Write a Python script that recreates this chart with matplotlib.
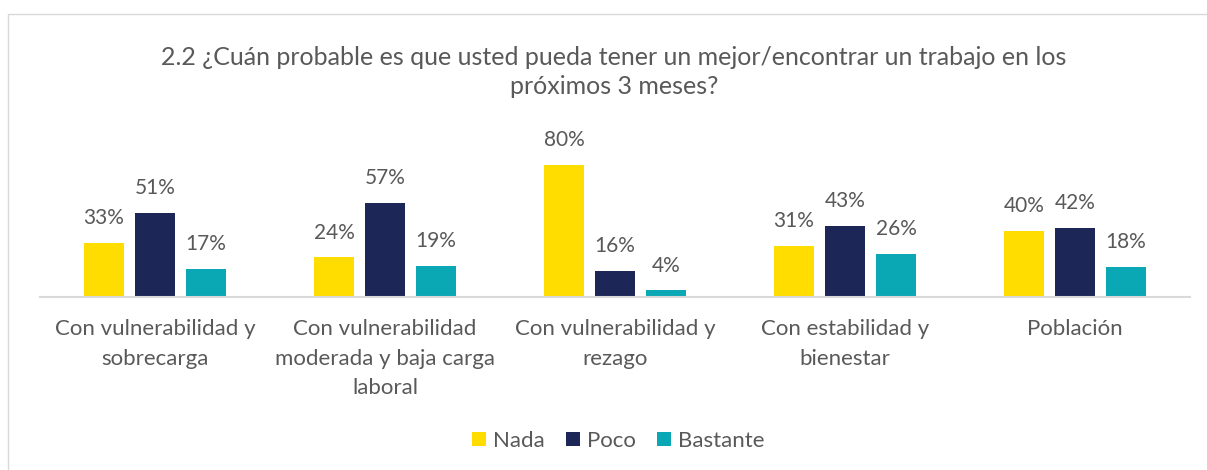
import matplotlib
matplotlib.use("Agg")
import matplotlib.pyplot as plt
from matplotlib.patches import Rectangle
import numpy as np

categories = ["Con vulnerabilidad y\nsobrecarga",
              "Con vulnerabilidad\nmoderada y baja carga\nlaboral",
              "Con vulnerabilidad y\nrezago",
              "Con estabilidad y\nbienestar",
              "Población"]
series_names = ["Nada", "Poco", "Bastante"]
nada = [33, 24, 80, 31, 40]
poco = [51, 57, 16, 43, 42]
bastante = [17, 19, 4, 26, 18]
colors = ["#FFDD00", "#1C2657", "#0AA7B4"]
title = "2.2 ¿Cuán probable es que usted pueda tener un mejor/encontrar un trabajo en los\npróximos 3 meses?"

plt.rcParams['font.family'] = ['Lato', 'DejaVu Sans']
txt = "#595959"

W, H = 1207, 470
fig = plt.figure(figsize=(W / 100, H / 100), dpi=100)
fig.patches.append(Rectangle((8 / W, -0.1), 1.2, (H - 14) / H + 0.1, transform=fig.transFigure,
                             fill=False, edgecolor="#d9d9d9", linewidth=1.0))

ax = fig.add_axes([40 / W, 173 / H, 1150 / W, 165 / H])
x = np.arange(len(categories))
bw = 40 / 230
step = 51 / 230
for i, (vals, name, c) in enumerate(zip([nada, poco, bastante], series_names, colors)):
    pos = x + (i - 1) * step
    bars = ax.bar(pos, vals, width=bw, color=c, label=name, zorder=2)
    for p, v in zip(pos, vals):
        ax.text(p, v + 9, f"{v}%", ha="center", va="bottom", fontsize=15, color=txt, clip_on=False)

ax.set_xlim(-0.5, len(categories) - 0.5)
ax.set_ylim(0, 100)
ax.set_yticks([])
ax.set_xticks(x)
ax.set_xticklabels(categories, fontsize=16, color=txt, linespacing=1.58)
ax.tick_params(axis="x", length=0, pad=16)
for s in ["top", "left", "right"]:
    ax.spines[s].set_visible(False)
ax.spines["bottom"].set_color("#d9d9d9")
ax.spines["bottom"].set_linewidth(1.5)
ax.set_facecolor("none")

fig.text(614 / W, 1 - 72 / H, title, ha="center", va="center", fontsize=18, color=txt, linespacing=1.29)

fig.legend(loc="center", bbox_to_anchor=(618 / W, 1 - 441 / H), ncol=3, frameon=False,
           fontsize=16, labelcolor=txt, handlelength=0.63, handleheight=0.63, handletextpad=0.32,
           columnspacing=0.95)

fig.savefig("out.png", dpi=100)
